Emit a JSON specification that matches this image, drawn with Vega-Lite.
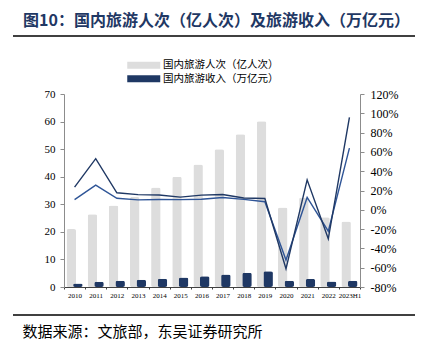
{
  "$schema": "https://vega.github.io/schema/vega-lite/v6.json",
  "autosize": "none",
  "width": 296,
  "height": 193,
  "padding": {"left": 64, "top": 94, "right": 61, "bottom": 61},
  "background": "white",
  "config": {
    "view": {"stroke": null},
    "font": "Liberation Serif"
  },
  "title": {
    "text": "图10：国内旅游人次（亿人次）及旅游收入（万亿元）",
    "font": "Noto Sans CJK SC",
    "fontSize": 16,
    "fontWeight": "bold",
    "color": "#1F3864",
    "anchor": "start",
    "frame": "group",
    "dx": -41,
    "offset": 6
  },
  "data": {
    "values": [
      {"year": "2010", "visitors": 21.0, "revenue": 1.26, "vg": 10.6, "rg": 23.5},
      {"year": "2011", "visitors": 26.4, "revenue": 1.93, "vg": 25.6, "rg": 53.0},
      {"year": "2012", "visitors": 29.6, "revenue": 2.27, "vg": 12.0, "rg": 17.6},
      {"year": "2013", "visitors": 32.6, "revenue": 2.63, "vg": 10.3, "rg": 15.7},
      {"year": "2014", "visitors": 36.1, "revenue": 3.03, "vg": 10.7, "rg": 15.4},
      {"year": "2015", "visitors": 40.0, "revenue": 3.42, "vg": 10.5, "rg": 13.1},
      {"year": "2016", "visitors": 44.4, "revenue": 3.94, "vg": 11.0, "rg": 15.2},
      {"year": "2017", "visitors": 50.0, "revenue": 4.57, "vg": 12.8, "rg": 15.9},
      {"year": "2018", "visitors": 55.4, "revenue": 5.13, "vg": 10.8, "rg": 12.3},
      {"year": "2019", "visitors": 60.1, "revenue": 5.73, "vg": 8.4, "rg": 11.7},
      {"year": "2020", "visitors": 28.8, "revenue": 2.23, "vg": -52.1, "rg": -61.1},
      {"year": "2021", "visitors": 32.5, "revenue": 2.92, "vg": 12.8, "rg": 31.0},
      {"year": "2022", "visitors": 25.3, "revenue": 2.04, "vg": -22.1, "rg": -30.0},
      {"year": "2023H1", "visitors": 23.8, "revenue": 2.30, "vg": 63.9, "rg": 95.9}
    ]
  },
  "encoding": {
    "x": {
      "field": "year",
      "type": "nominal",
      "sort": null,
      "scale": {"paddingInner": 0, "paddingOuter": 0},
      "axis": {
        "title": "数据来源：文旅部，东吴证券研究所",
        "titleFont": "Noto Sans CJK SC",
        "titleFontSize": 15,
        "titleFontWeight": "normal",
        "titleColor": "#000000",
        "titleAnchor": "start",
        "titleAlign": "left",
        "titleBaseline": "alphabetic",
        "titleX": -42,
        "titleY": 49,
        "labelAngle": 0,
        "labelFontSize": 7,
        "labelColor": "#000000",
        "labelPadding": 2,
        "labelOverlap": false,
        "domainColor": "#404040",
        "domainWidth": 1,
        "tickBand": "extent",
        "tickSize": 2,
        "tickColor": "#404040"
      }
    }
  },
  "layer": [
    {
      "layer": [
        {
          "mark": {"type": "bar", "width": 9.5, "xOffset": -3.3, "cornerRadius": 2},
          "encoding": {
            "y": {
              "field": "visitors",
              "type": "quantitative",
              "scale": {"domain": [0, 70]},
              "axis": {
                "title": null,
                "values": [0, 10, 20, 30, 40, 50, 60, 70],
                "labelOverlap": false,
                "grid": false,
                "labelFontSize": 11,
                "labelColor": "#000000",
                "domainColor": "#8C8C8C",
                "tickColor": "#8C8C8C",
                "tickSize": 4,
                "labelPadding": 5
              }
            },
            "color": {
              "datum": "国内旅游人次（亿人次）",
              "type": "nominal",
              "scale": {
                "domain": ["国内旅游人次（亿人次）", "国内旅游收入（万亿元）"],
                "range": ["#DDDDDD", "#1F3864"]
              },
              "legend": {
                "title": null,
                "orient": "none",
                "legendX": 63,
                "legendY": -34,
                "direction": "vertical",
                "symbolType": "M-3.3,-0.7H3.3V0.7H-3.3Z",
                "symbolSize": 100,
                "symbolOffset": 11.5,
                "symbolStrokeWidth": 0,
                "labelFont": "Noto Sans CJK SC",
                "labelFontSize": 10.5,
                "labelColor": "#000000",
                "labelOffset": 14,
                "rowPadding": 2.5
              }
            }
          }
        },
        {
          "mark": {"type": "bar", "width": 9.5, "xOffset": 3.3, "cornerRadius": 2},
          "encoding": {
            "y": {
              "field": "revenue",
              "type": "quantitative",
              "scale": {"domain": [0, 70]},
              "axis": {
                "title": null,
                "values": [0, 10, 20, 30, 40, 50, 60, 70],
                "labelOverlap": false,
                "grid": false,
                "labelFontSize": 11,
                "labelColor": "#000000",
                "domainColor": "#8C8C8C",
                "tickColor": "#8C8C8C",
                "tickSize": 4,
                "labelPadding": 5
              }
            },
            "color": {"datum": "国内旅游收入（万亿元）", "type": "nominal"}
          }
        }
      ]
    },
    {
      "layer": [
        {
          "mark": {"type": "line", "color": "#2F5597", "strokeWidth": 1.4},
          "encoding": {
            "y": {
              "field": "vg",
              "type": "quantitative",
              "scale": {"domain": [-80, 120]},
              "axis": {
                "orient": "right",
                "title": null,
                "values": [-80, -60, -40, -20, 0, 20, 40, 60, 80, 100, 120],
                "labelExpr": "datum.value + '%'",
                "labelOverlap": false,
                "grid": false,
                "labelFontSize": 12,
                "labelColor": "#000000",
                "domainColor": "#8C8C8C",
                "tickColor": "#8C8C8C",
                "tickSize": 4,
                "labelPadding": 6
              }
            }
          }
        },
        {
          "mark": {"type": "line", "color": "#1F3864", "strokeWidth": 1.4},
          "encoding": {
            "y": {
              "field": "rg",
              "type": "quantitative",
              "scale": {"domain": [-80, 120]},
              "axis": {
                "orient": "right",
                "title": null,
                "values": [-80, -60, -40, -20, 0, 20, 40, 60, 80, 100, 120],
                "labelExpr": "datum.value + '%'",
                "labelOverlap": false,
                "grid": false,
                "labelFontSize": 12,
                "labelColor": "#000000",
                "domainColor": "#8C8C8C",
                "tickColor": "#8C8C8C",
                "tickSize": 4,
                "labelPadding": 6
              }
            }
          }
        }
      ]
    },
    {
      "data": {"values": [{"k": 1}]},
      "mark": {"type": "rule", "color": "#000000", "strokeWidth": 1.5},
      "encoding": {
        "x": {"value": -51},
        "x2": {"value": 351},
        "y": {"value": -58}
      }
    },
    {
      "data": {"values": [{"k": 1}]},
      "mark": {"type": "rule", "color": "#000000", "strokeWidth": 1.5},
      "encoding": {
        "x": {"value": -51},
        "x2": {"value": 351},
        "y": {"value": 221}
      }
    }
  ],
  "resolve": {"scale": {"y": "independent"}}
}
